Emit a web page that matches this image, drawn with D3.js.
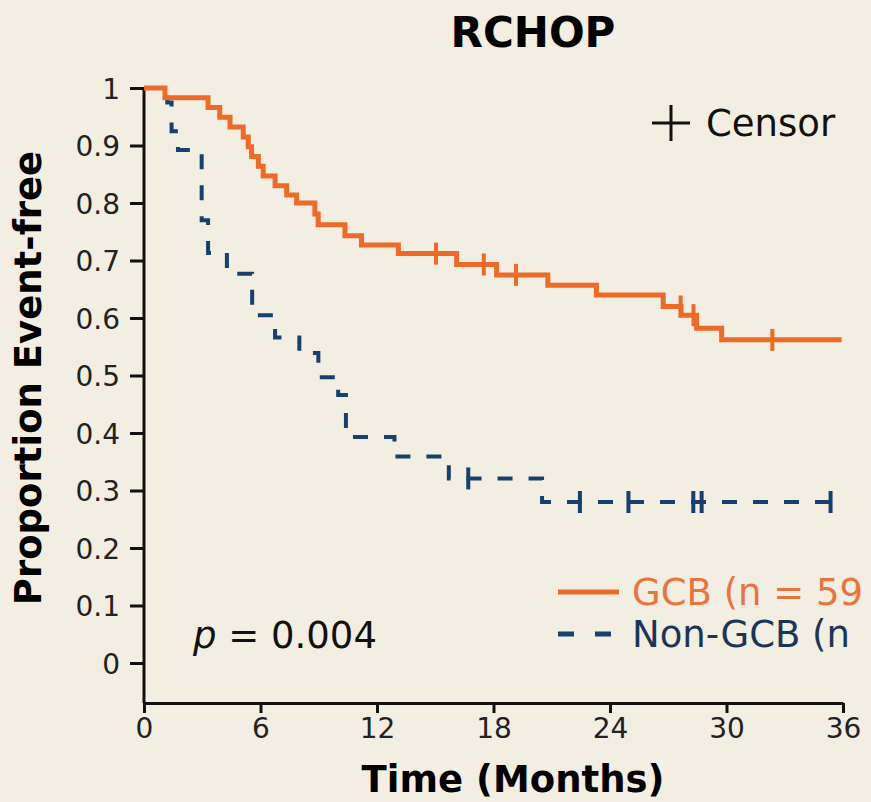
<!DOCTYPE html>
<html>
<head>
<meta charset="utf-8">
<script src="https://cdn.jsdelivr.net/npm/d3@7"></script>
<style>
  html, body { margin: 0; padding: 0; background: #f2eee1; overflow: hidden; }
  svg { display: block; }
  text { font-family: "DejaVu Sans", Verdana, sans-serif; }
</style>
</head>
<body>
<div id="chart"></div>
<script>
// event times (months) and proportion event-free after each drop
var gcbTimes = [1.08, 3.3, 3.9, 4.43, 5.11, 5.37, 5.54, 5.89, 6.14, 6.75, 7.35, 7.86, 8.8, 8.97, 10.35, 11.2, 13.1, 16.1, 18.16, 20.8, 23.3, 26.74, 27.66, 28.46, 29.75];
var gcbSurv = [0.983, 0.966, 0.949, 0.932, 0.915, 0.898, 0.881, 0.864, 0.847, 0.830, 0.814, 0.800, 0.781, 0.762, 0.743, 0.727, 0.712, 0.693, 0.675, 0.657, 0.640, 0.620, 0.605, 0.582, 0.562];
var gcbCensor = [15.04, 17.5, 19.16, 27.64, 28.3, 32.36];
var gcbEnd = 35.93;

var nonTimes = [1.2, 1.42, 1.75, 2.97, 3.3, 4.27, 5.57, 6.75, 8.0, 8.98, 10.0, 10.4, 12.9, 15.7, 20.5];
var nonSurv = [0.975, 0.925, 0.892, 0.77, 0.713, 0.677, 0.605, 0.566, 0.539, 0.497, 0.466, 0.393, 0.359, 0.321, 0.280];
var nonCensor = [16.7, 22.45, 24.95, 28.29, 28.72, 35.36];
var nonEnd = 36.0;

var xTicks = [0, 6, 12, 18, 24, 30, 36];
var yTicks = [0, 0.1, 0.2, 0.3, 0.4, 0.5, 0.6, 0.7, 0.8, 0.9, 1];

var width = 871, height = 802;
var orange = "#ec6b28", blue = "#17406d";

var svg = d3.select("#chart").append("svg").attr("width", width).attr("height", height);
svg.append("rect").attr("width", width).attr("height", height).attr("fill", "#f2eee1");

var x = d3.scaleLinear().domain([0, 36]).range([144, 843]);
var y = d3.scaleLinear().domain([0, 1]).range([663, 88]);

// axes
var yAxis = svg.append("g")
    .attr("transform", "translate(144,0)")
    .call(d3.axisLeft(y).tickValues(yTicks).tickSize(14).tickPadding(10).tickSizeOuter(0).tickFormat(d => String(d)));
yAxis.select(".domain").attr("d", "M0," + y(1) + "V703");
yAxis.selectAll("text").attr("font-size", 28).attr("font-family", "DejaVu Sans").attr("fill", "#222").attr("dy", "0.36em");

var xAxis = svg.append("g")
    .attr("transform", "translate(0,703)")
    .call(d3.axisBottom(x).tickValues(xTicks).tickSize(10).tickPadding(5).tickSizeOuter(0));
xAxis.selectAll("text").attr("font-size", 28).attr("font-family", "DejaVu Sans").attr("fill", "#222");

[yAxis, xAxis].forEach(function (a) {
    a.selectAll(".domain, .tick line").attr("stroke", "#111").attr("stroke-width", 3);
});

function stepPoints(times, surv, end) {
    var pts = [{t: 0, s: 1}];
    times.forEach(function (t, i) { pts.push({t: t, s: surv[i]}); });
    pts.push({t: end, s: surv[surv.length - 1]});
    return pts;
}

function survAt(times, surv, t) {
    var v = 1;
    times.forEach(function (tt, i) { if (tt <= t) v = surv[i]; });
    return v;
}

var line = d3.line()
    .x(d => x(d.t))
    .y(d => y(d.s))
    .curve(d3.curveStepAfter);

// Non-GCB (dashed)
svg.append("path")
    .datum(stepPoints(nonTimes, nonSurv, nonEnd))
    .attr("d", line)
    .attr("fill", "none")
    .attr("stroke", blue)
    .attr("stroke-width", 4)
    .attr("stroke-dasharray", "15,16");

svg.append("g").selectAll("line")
    .data(nonCensor)
    .join("line")
    .attr("x1", d => x(d)).attr("x2", d => x(d))
    .attr("y1", d => y(survAt(nonTimes, nonSurv, d)) - 11)
    .attr("y2", d => y(survAt(nonTimes, nonSurv, d)) + 11)
    .attr("stroke", blue).attr("stroke-width", 4);

// GCB (solid)
svg.append("path")
    .datum(stepPoints(gcbTimes, gcbSurv, gcbEnd))
    .attr("d", line)
    .attr("fill", "none")
    .attr("stroke", orange)
    .attr("stroke-width", 5);

svg.append("g").selectAll("line")
    .data(gcbCensor)
    .join("line")
    .attr("x1", d => x(d)).attr("x2", d => x(d))
    .attr("y1", d => y(survAt(gcbTimes, gcbSurv, d)) - 11)
    .attr("y2", d => y(survAt(gcbTimes, gcbSurv, d)) + 11)
    .attr("stroke", orange).attr("stroke-width", 4);

// title and axis titles
svg.append("text")
    .attr("x", 533).attr("y", 47)
    .attr("text-anchor", "middle")
    .attr("font-size", 42).attr("font-weight", "bold")
    .text("RCHOP");

svg.append("text")
    .attr("x", 513).attr("y", 792)
    .attr("text-anchor", "middle")
    .attr("font-size", 37).attr("font-weight", "bold")
    .text("Time (Months)");

svg.append("text")
    .attr("transform", "translate(41,378) rotate(-90)")
    .attr("text-anchor", "middle")
    .attr("font-size", 37).attr("font-weight", "bold")
    .text("Proportion Event-free");

// censor legend
svg.append("line").attr("x1", 652).attr("x2", 690).attr("y1", 123).attr("y2", 123)
    .attr("stroke", "#111").attr("stroke-width", 3);
svg.append("line").attr("x1", 671).attr("x2", 671).attr("y1", 105).attr("y2", 141)
    .attr("stroke", "#111").attr("stroke-width", 3);
svg.append("text").attr("x", 706).attr("y", 136)
    .attr("font-size", 37).attr("fill", "#111").text("Censor");

// p value
var pText = svg.append("text").attr("x", 193).attr("y", 648).attr("font-size", 37).attr("fill", "#111");
pText.append("tspan").attr("font-style", "italic").text("p");
pText.append("tspan").text(" = 0.004");

// series legend (text is cut at the panel edge in the original)
svg.append("line").attr("x1", 558).attr("x2", 619).attr("y1", 592).attr("y2", 592)
    .attr("stroke", orange).attr("stroke-width", 5);
svg.append("text").attr("x", 632).attr("y", 605)
    .attr("font-size", 37).attr("fill", "#e8743f").text("GCB (n = 59");

svg.append("line").attr("x1", 558).attr("x2", 619).attr("y1", 634).attr("y2", 634)
    .attr("stroke", blue).attr("stroke-width", 5).attr("stroke-dasharray", "16,21");
svg.append("text").attr("x", 632).attr("y", 647)
    .attr("font-size", 37).attr("fill", "#1b3559").text("Non-GCB (n");
</script>
</body>
</html>
